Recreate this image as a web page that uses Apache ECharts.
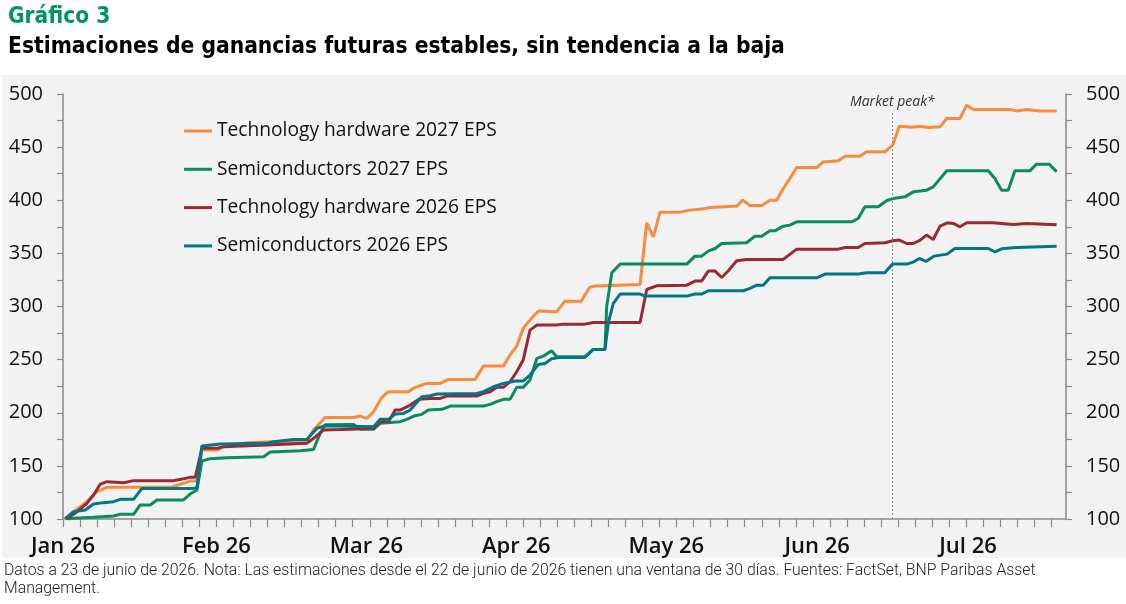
<!DOCTYPE html>
<html>
<head>
<meta charset="utf-8">
<script src="https://cdn.jsdelivr.net/npm/echarts@6/dist/echarts.min.js"></script>
<style>
html,body{margin:0;padding:0;background:#fff;}
#chart{width:1126px;height:604px;}
</style>
</head>
<body>
<div id="chart"></div>
<script>
// x unit = one axis tick interval
const monthLabels = ['Jan 26','Feb 26','Mar 26','Apr 26','May 26','Jun 26','Jul 26'];
const monthPos = [0, 9.0, 17.8, 26.6, 35.4, 44.25, 53.1];
const xTicks = [0,1,2,3,4,5,6,7,8,9,10,11,12,13,14,15,16,17,18,19,20,21,22,23,24,25,26,27,28,29,30,31,32,33,34,35,36,37,38,39,40,41,42,43,44,45,46,47,48,49,50,51,52,53,54,55,56,57,58];
const marketPeakX = 48.66;
const seriesNames = ['Technology hardware 2027 EPS','Semiconductors 2027 EPS','Technology hardware 2026 EPS','Semiconductors 2026 EPS'];

const techHw2027 = [[0.1,100],[0.62,106.9],[1.4,116.3],[1.99,125.7],[2.58,129.8],[6.29,129.8],[7.07,133.6],[7.46,135.7],[7.86,136],[8.15,164.9],[9.03,164.9],[9.42,168],[10.79,171.8],[12.16,172.7],[14.3,172.7],[14.7,183.7],[15.38,195.6],[17.05,195.6],[17.44,196.9],[17.83,194.7],[18.22,201],[18.71,214.5],[19.1,219.8],[20.27,219.8],[20.66,223.9],[21.35,227.6],[22.13,227.6],[22.62,231.4],[24.18,231.4],[24.67,243.9],[25.84,243.9],[26.23,254.3],[26.62,262.7],[27.0,279.4],[27.4,287.2],[27.89,295.7],[28.96,295],[29.45,305],[30.4,305],[30.9,318],[31.2,319.2],[33.86,320.8],[34.25,378.8],[34.64,365.6],[35.03,388.8],[36.2,388.8],[36.79,390.7],[37.57,391.9],[37.96,393.2],[39.33,394.4],[39.53,394.4],[39.88,400.1],[40.31,395.1],[41.0,395.1],[41.48,400.1],[41.87,400.1],[42.27,411.1],[42.65,420.5],[43.05,430.8],[44.22,430.8],[44.61,436.1],[45.49,437.1],[45.88,441.5],[46.76,441.5],[47.15,445.6],[48.23,445.6],[48.68,451.8],[49.07,469.7],[49.8,468.8],[50.28,469.7],[50.77,468.5],[51.46,469.1],[51.85,476.9],[52.63,476.9],[53.02,489.5],[53.41,485.4],[55.56,485.4],[55.95,484.1],[56.54,485.4],[57.32,484.1],[58.3,484.1]];

const semis2027 = [[0.3,100],[0.62,100.6],[1.79,101.6],[2.97,102.8],[3.36,104.4],[4.14,104.4],[4.53,113.2],[5.12,113.2],[5.51,117.9],[7.07,117.9],[7.46,123.5],[7.86,127.3],[8.15,154.6],[8.64,156.8],[9.62,157.7],[11.77,158.6],[12.16,163],[13.92,164.3],[14.7,165.5],[15.09,180.6],[15.38,188.6],[17.05,189],[17.44,184.4],[18.22,184.4],[18.61,190],[19.78,191.6],[20.17,193.8],[20.66,197.2],[21.05,198.5],[21.44,202.5],[22.23,203.2],[22.72,206.3],[24.67,206.3],[25.06,207.9],[25.45,210.4],[25.84,212.6],[26.23,212.6],[26.62,223.9],[27.0,223.9],[27.4,230.8],[27.8,251.1],[28.18,253.3],[28.67,258.4],[28.96,252.7],[30.62,252.7],[31.11,259.6],[31.8,259.6],[31.9,300],[32.2,331.7],[32.69,339.9],[36.6,339.9],[37.08,347.4],[37.47,347.4],[37.86,352.1],[38.26,354.6],[38.65,359.3],[40.11,360],[40.6,366.2],[40.99,366.2],[41.48,371.2],[41.77,371.2],[42.26,375.6],[42.65,376.6],[43.05,379.7],[46.27,379.7],[46.66,382.8],[47.05,393.8],[47.83,393.8],[48.32,399.5],[48.71,401.7],[49.4,403.2],[49.89,407.9],[50.67,409.5],[51.06,412.6],[51.85,427.7],[54.29,427.7],[54.68,420.5],[55.07,409.5],[55.46,409.5],[55.85,427.7],[56.73,427.7],[57.12,434],[57.86,434],[58.3,426.8]];

const techHw2026 = [[0.2,100],[0.82,106.9],[1.4,114.7],[1.79,122.6],[2.19,132.9],[2.58,135.1],[3.56,134.2],[4.14,136.1],[6.49,136.1],[7.07,137.9],[7.46,139.2],[7.76,139.2],[8.15,166.5],[9.03,166.5],[9.42,168],[11.96,169.6],[14.3,171.2],[14.7,175.9],[15.28,183.7],[16.85,184.4],[18.22,185.3],[18.61,191.6],[19.1,191.6],[19.49,202.5],[19.78,202.5],[20.37,207.2],[20.86,212.6],[21.54,213.5],[22.13,213.5],[22.52,215.7],[24.28,215.7],[24.67,218.2],[25.06,219.8],[25.45,223.9],[25.84,223.9],[26.23,229.2],[26.62,238.6],[27.0,249.6],[27.4,277.8],[27.8,282.5],[28.96,282.5],[29.35,283.4],[30.62,283.4],[31.11,285],[33.86,285],[34.25,316],[34.83,319.5],[36.6,320.1],[37.08,323.9],[37.47,323.9],[37.86,333.3],[38.26,333.3],[38.65,327.3],[39.04,333.6],[39.53,343],[40.11,344.3],[42.26,344.3],[43.05,354],[45.49,354],[45.88,355.6],[46.66,355.6],[47.05,359.3],[48.23,360],[48.68,361.9],[49.07,362.5],[49.5,359.3],[49.89,359.3],[50.24,361.9],[50.67,367.2],[51.06,363.1],[51.46,375.6],[51.88,378.8],[52.24,378.2],[52.63,375],[53.02,378.8],[54.58,378.8],[55.76,377.2],[56.54,378.2],[58.3,376.9]];

const semis2026 = [[0.13,100],[0.62,106.9],[1.31,108.5],[1.79,114.1],[2.38,115.4],[2.97,116.3],[3.36,118.5],[4.14,118.5],[4.63,128.8],[7.66,128.8],[7.86,129.8],[8.15,168.7],[9.23,170.6],[11.96,171.2],[12.35,172.7],[13.53,174.9],[14.3,174.9],[14.89,185.3],[15.38,187.8],[18.22,186.9],[18.61,193.8],[19.1,193.8],[19.49,198.8],[19.98,199.4],[20.37,202.5],[21.05,215.1],[21.54,216],[21.93,217.6],[24.28,218.2],[24.67,219.8],[25.26,224.5],[25.84,227.6],[26.53,229.8],[27.0,229.8],[27.4,235.5],[27.89,245.5],[28.28,246.4],[28.67,250.8],[29.16,252.1],[30.62,252.1],[31.11,259.6],[31.8,259.6],[32.0,285],[32.29,302.9],[32.69,311.7],[33.86,311.7],[34.15,309.8],[36.6,309.8],[37.08,311.7],[37.47,311.7],[37.86,314.8],[39.92,314.8],[40.31,317],[40.7,320.1],[41.09,320.1],[41.48,327],[44.22,327],[44.71,330.5],[46.66,330.5],[47.15,331.7],[48.22,331.7],[48.67,339.9],[49.5,339.9],[49.89,341.8],[50.24,345.2],[50.63,342.4],[51.1,347.4],[51.88,349.3],[52.33,354.6],[54.29,354.6],[54.68,351.5],[55.07,354.3],[55.95,355.6],[58.3,356.8]];

const colors = ['#FA8A3D','#0A8D5A','#982A33','#007689'];

const chart = echarts.init(document.getElementById('chart'), null, {renderer:'canvas'});
const axisGray = '#8a8a8a';
const font = 'Open Sans';

function yAxisCfg(pos){
  return {
    type:'value', position:pos, min:100, max:500, interval:25,
    axisLine:{show:true, lineStyle:{color:axisGray, width:1.5}},
    axisTick:{show:true, inside:false, length:6, lineStyle:{color:axisGray, width:1.2}},
    splitLine:{show:false},
    axisLabel:{
      margin:20, color:'#111', fontFamily:font, fontSize:20,
      formatter: v => (v % 50 === 0 ? String(v) : '')
    }
  };
}

const lineSeries = [techHw2027, semis2027, techHw2026, semis2026].map((d, i) => ({
  name: seriesNames[i], type:'line', data:d, symbol:'none', showSymbol:false,
  lineStyle:{width:3, color:colors[i]}, itemStyle:{color:colors[i]},
  emphasis:{disabled:true}, z:2+i
}));
lineSeries[0].markLine = {
  silent:true, symbol:['none','none'],
  lineStyle:{color:'#8f8f8f', type:[2,2], width:1},
  label:{show:true, position:'end', formatter:'Market peak*', color:'#333', fontFamily:font, fontStyle:'italic', fontSize:14, distance:4},
  data:[[{coord:[marketPeakX,100]},{coord:[marketPeakX,482]}]]
};

chart.setOption({
  animation:false,
  backgroundColor:'#ffffff',
  title:[
    {text:'Gráfico 3', left:3, top:1, textStyle:{color:'#00965E', fontFamily:'DejaVu Sans Condensed', fontWeight:'bold', fontSize:22.5}},
    {text:'Estimaciones de ganancias futuras estables, sin tendencia a la baja', left:3, top:31, textStyle:{color:'#000', fontFamily:'DejaVu Sans Condensed', fontWeight:'bold', fontSize:22.6}}
  ],
  graphic:[
    {type:'rect', left:2, top:75, z:-10, silent:true, shape:{width:1124, height:483}, style:{fill:'#f2f2f2'}},
    {type:'text', left:4, top:562, z:10, silent:true, style:{
      text:'Datos a 23 de junio de 2026. Nota: Las estimaciones desde el 22 de junio de 2026 tienen una ventana de 30 días. Fuentes: FactSet, BNP Paribas Asset\nManagement.',
      fill:'#222', font:'300 15.8px Roboto', lineHeight:18
    }}
  ],
  legend:{
    orient:'vertical', left:179, top:116, itemWidth:28, itemHeight:3, itemGap:18.3,
    icon:'rect',
    data: seriesNames.map((n,i)=>({name:n, itemStyle:{color:colors[i]}})),
    textStyle:{color:'#111', fontFamily:font, fontSize:19.2, lineHeight:20},
    selectedMode:false
  },
  grid:{left:63, right:60, top:94, height:425, containLabel:false},
  xAxis:{
    type:'value', min:0, max:58.85,
    axisLine:{show:true, lineStyle:{color:axisGray, width:1.5}, onZero:false},
    axisTick:{show:true, customValues:xTicks, length:8, lineStyle:{color:axisGray, width:1.2}},
    splitLine:{show:false},
    axisLabel:{
      customValues:monthPos, margin:17, color:'#111', fontFamily:font, fontSize:22, fontWeight:600,
      formatter: v => { const k = monthPos.indexOf(v); return k >= 0 ? monthLabels[k] : ''; }
    }
  },
  yAxis:[yAxisCfg('left'), yAxisCfg('right')],
  series: lineSeries
});
</script>
</body>
</html>
